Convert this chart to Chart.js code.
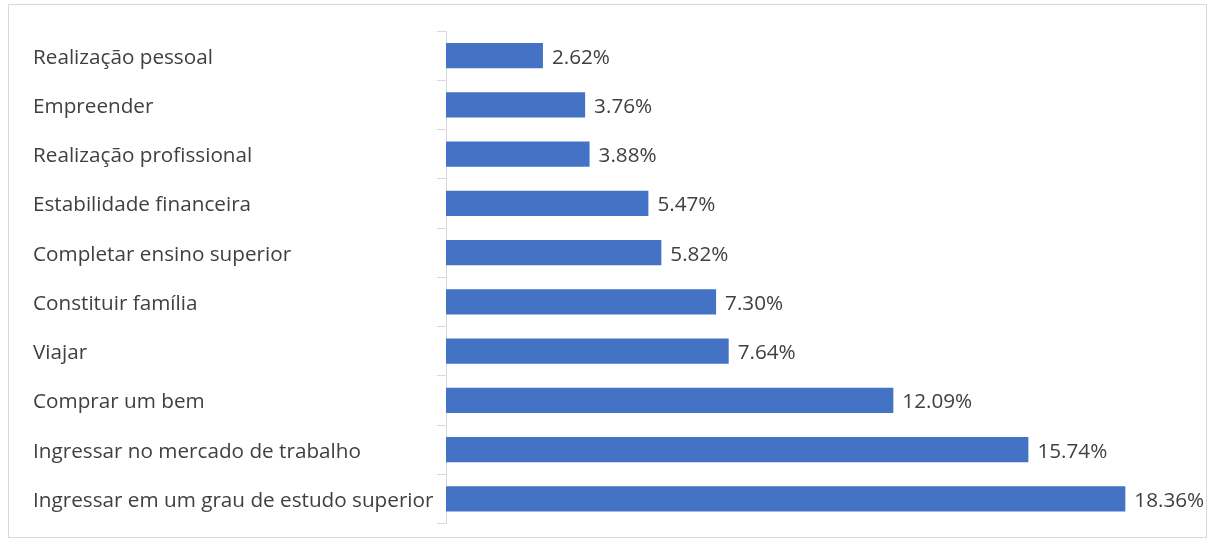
<!DOCTYPE html>
<html><head><meta charset="utf-8">
<script src="https://cdn.jsdelivr.net/npm/chart.js@4"></script>
<style>html,body{margin:0;padding:0;background:#fff}#wrap{width:1211px;height:542px;position:relative}</style>
</head><body><div id="wrap"><canvas id="c" width="1211" height="542"></canvas></div>
<script>
const categories = ["Realização pessoal","Empreender","Realização profissional","Estabilidade financeira","Completar ensino superior","Constituir família","Viajar","Comprar um bem","Ingressar no mercado de trabalho","Ingressar em um grau de estudo superior"];
const values = [2.62,3.76,3.88,5.47,5.82,7.30,7.64,12.09,15.74,18.36];
const FONT = "'Open Sans', sans-serif";
const TEXT = "#404040";

const frame = {
  id:'frame',
  beforeDraw(chart){
    const ctx=chart.ctx; ctx.save();
    ctx.fillStyle='#fff'; ctx.fillRect(0,0,chart.width,chart.height);
    ctx.strokeStyle='#d9d9d9'; ctx.lineWidth=1;
    ctx.strokeRect(8.5,4.5,1198,533);
    ctx.restore();
  }
};
const labels = {
  id:'labels',
  afterDatasetsDraw(chart){
    const ctx=chart.ctx; ctx.save();
    ctx.font = "20.7px " + FONT; ctx.fillStyle=TEXT; ctx.textAlign='left'; ctx.textBaseline='middle';
    chart.getDatasetMeta(0).data.forEach((b,i)=>{
      ctx.fillText(values[i].toFixed(2)+'%', b.x+9, b.y+2);
    });
    ctx.restore();
  }
};
new Chart(document.getElementById('c'),{
  type:'bar',
  data:{labels:categories,datasets:[{data:values,backgroundColor:'#4472C4',borderWidth:0,barPercentage:0.51,categoryPercentage:1}]},
  options:{
    indexAxis:'y',responsive:false,animation:false,
    layout:{padding:{left:33,right:25,top:31,bottom:18.5}},
    plugins:{legend:{display:false},tooltip:{enabled:false}},
    scales:{
      x:{display:false,min:0,max:20},
      y:{
        afterFit(s){s.width=446-33;},
        grid:{display:true,drawOnChartArea:false,offset:true,tickLength:9,color:'#d9d9d9'},
        border:{display:true,color:'#d9d9d9'},
        ticks:{crossAlign:'far',color:TEXT,font:{family:FONT,size:20.7},padding:0,labelOffset:2}
      }
    }
  },
  plugins:[frame,labels]
});
</script></body></html>
